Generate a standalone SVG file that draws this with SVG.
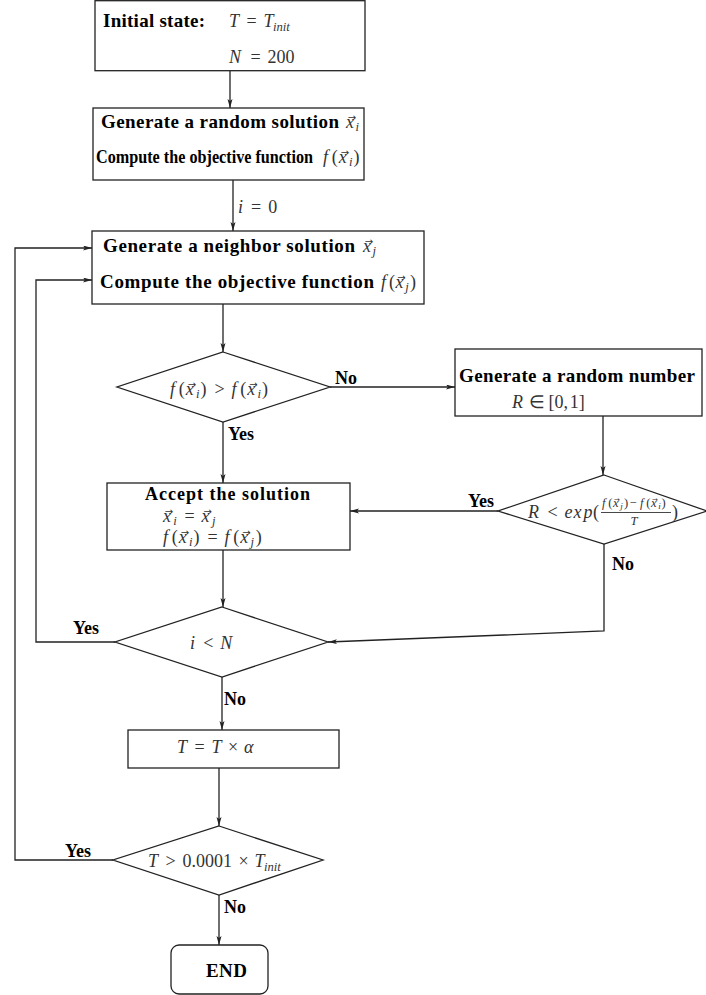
<svg xmlns="http://www.w3.org/2000/svg" width="706" height="995" viewBox="0 0 706 995">
<style>
.box{fill:#fff;stroke:#222;stroke-width:1.3}
.ln{fill:none;stroke:#222;stroke-width:1.3}
.b{font-family:"Liberation Serif",serif;font-weight:bold;font-size:19px;fill:#000}
.lab{font-family:"Liberation Serif",serif;font-weight:bold;font-size:18px;fill:#000}
.m{font-family:"Liberation Serif",serif;font-style:italic;font-size:18px;fill:#333}
.r{font-style:normal}
.s{font-size:12.6px}
.ss{font-size:9px}
.f{font-size:12.6px}
.v{font-family:"DejaVu Sans",sans-serif;font-size:10px;fill:#333;text-anchor:middle}
.vs{font-size:7px}
</style>
<defs>
<marker id="ah" markerUnits="userSpaceOnUse" markerWidth="10" markerHeight="6" refX="9" refY="2.5" orient="auto">
<path d="M0,0 L9,2.5 L0,5 L2,2.5 z" fill="#222"/>
</marker>
</defs>
<rect width="706" height="995" fill="#fff"/>
<g id="connectors">
<path class="ln" d="M230,71 V108" marker-end="url(#ah)"/>
<path class="ln" d="M233,180 V231" marker-end="url(#ah)"/>
<path class="ln" d="M223,304 V352" marker-end="url(#ah)"/>
<path class="ln" d="M330,387 H455" marker-end="url(#ah)"/>
<path class="ln" d="M603,416 V475" marker-end="url(#ah)"/>
<path class="ln" d="M498,511 H350" marker-end="url(#ah)"/>
<path class="ln" d="M223,422 V483" marker-end="url(#ah)"/>
<path class="ln" d="M604,544 V631 L328,642" marker-end="url(#ah)"/>
<path class="ln" d="M223,550 V607" marker-end="url(#ah)"/>
<path class="ln" d="M115,642 H36 V280 H92" marker-end="url(#ah)"/>
<path class="ln" d="M222,677 V730" marker-end="url(#ah)"/>
<path class="ln" d="M219,768 V826" marker-end="url(#ah)"/>
<path class="ln" d="M113,860 H15 V248 H92" marker-end="url(#ah)"/>
<path class="ln" d="M219,895 V945" marker-end="url(#ah)"/>
<text class="m" y="213"><tspan x="238">i</tspan><tspan x="251" class="r">=</tspan><tspan x="268.2" class="r">0</tspan></text>
<text class="lab" x="335" y="384">No</text>
<text class="lab" x="228" y="440">Yes</text>
<text class="lab" x="468" y="507">Yes</text>
<text class="lab" x="612" y="570">No</text>
<text class="lab" x="73" y="634">Yes</text>
<text class="lab" x="224" y="705">No</text>
<text class="lab" x="65" y="857">Yes</text>
<text class="lab" x="224" y="913">No</text>
</g>
<g id="init">
<rect class="box" x="95" y="0.7" width="270" height="70"/>
<text class="b" x="103" y="27" textLength="102">Initial state:</text>
<text class="m" y="27"><tspan x="229">T</tspan><tspan x="246.5" class="r">=</tspan><tspan x="263.5">T</tspan><tspan x="273" dy="3.5" class="s">init</tspan></text>
<text class="m" y="63"><tspan x="229">N</tspan><tspan x="250.5" class="r">=</tspan><tspan x="267.5" class="r">200</tspan></text>
</g>
<g id="random-solution">
<rect class="box" x="93" y="108" width="271" height="72"/>
<text class="b" x="101" y="128" textLength="238">Generate a random solution</text>
<text class="m" y="128"><tspan x="346">x</tspan><tspan x="355.5" dy="3" class="s">i</tspan></text>
<text class="v" x="352" y="121">→</text>
<text class="b" x="96" y="163" textLength="217" lengthAdjust="spacingAndGlyphs" style="font-size:18px">Compute the objective function</text>
<text class="m" y="163"><tspan x="323">f</tspan><tspan x="331.8" class="r">(</tspan><tspan x="338.8">x</tspan><tspan x="349.1" dy="3" class="s">i</tspan><tspan x="353.5" dy="-3" class="r">)</tspan></text>
<text class="v" x="345" y="156">→</text>
</g>
<g id="neighbor">
<rect class="box" x="92" y="231" width="332" height="73"/>
<text class="b" x="103" y="252" textLength="252">Generate a neighbor solution</text>
<text class="m" y="252"><tspan x="363">x</tspan><tspan x="372.5" dy="3" class="s">j</tspan></text>
<text class="v" x="369" y="245">→</text>
<text class="b" x="100" y="288" textLength="274">Compute the objective function</text>
<text class="m" y="288"><tspan x="381">f</tspan><tspan x="389" class="r">(</tspan><tspan x="395.5">x</tspan><tspan x="405.3" dy="3" class="s">j</tspan><tspan x="410" dy="-3" class="r">)</tspan></text>
<text class="v" x="401.5" y="281">→</text>
</g>
<g id="cond-improve">
<polygon class="box" points="223,352 330,387 223,422 117,387"/>
<text class="m" y="395"><tspan x="170">f</tspan><tspan x="178.8" class="r">(</tspan><tspan x="185.8">x</tspan><tspan x="196.1" dy="3" class="s">i</tspan><tspan x="200.5" dy="-3" class="r">)</tspan><tspan x="214.5" class="r">&gt;</tspan><tspan x="231.5">f</tspan><tspan x="240.3" class="r">(</tspan><tspan x="247.3">x</tspan><tspan x="257.6" dy="3" class="s">i</tspan><tspan x="262" dy="-3" class="r">)</tspan></text>
<text class="v" x="192" y="388">→</text>
<text class="v" x="253.5" y="388">→</text>
</g>
<g id="random-number">
<rect class="box" x="455" y="349" width="247" height="67"/>
<text class="b" x="459" y="382" textLength="236">Generate a random number</text>
<text class="m" y="408"><tspan x="512">R</tspan><tspan x="529" class="r">∈</tspan><tspan x="548.5" class="r">[0,</tspan><tspan x="569.7" class="r">1]</tspan></text>
</g>
<g id="cond-prob">
<polygon class="box" points="604,475 707,511 604,544 498,511"/>
<text class="m" y="518"><tspan x="528">R</tspan><tspan x="547.5" class="r">&lt;</tspan><tspan x="564.5">e</tspan><tspan x="573.5">x</tspan><tspan x="583.5">p</tspan><tspan x="593" class="r">(</tspan></text>
<text class="m f" y="507"><tspan x="602">f</tspan><tspan x="608.2" class="r">(</tspan><tspan x="613.1">x</tspan><tspan x="620.3" dy="2" class="ss">j</tspan><tspan x="624" dy="-2" class="r">)</tspan><tspan x="629.5" class="r">−</tspan><tspan x="640">f</tspan><tspan x="646.2" class="r">(</tspan><tspan x="651.1">x</tspan><tspan x="658.3" dy="2" class="ss">i</tspan><tspan x="661.5" dy="-2" class="r">)</tspan></text>
<text class="v vs" x="617" y="502">→</text>
<text class="v vs" x="655" y="502">→</text>
<line x1="601" y1="512.5" x2="671" y2="512.5" stroke="#333" stroke-width="0.9"/>
<text class="m f" x="630.5" y="525">T</text>
<text class="m r" x="672" y="518">)</text>
</g>
<g id="accept">
<rect class="box" x="107" y="483" width="243" height="67"/>
<text class="b" x="145" y="500" textLength="165" style="font-size:18px">Accept the solution</text>
<text class="m" y="522"><tspan x="163">x</tspan><tspan x="173.3" dy="3" class="s">i</tspan><tspan x="184.6" dy="-3" class="r">=</tspan><tspan x="201.6">x</tspan><tspan x="211.9" dy="3" class="s">j</tspan></text>
<text class="v" x="169" y="515">→</text>
<text class="v" x="207.6" y="515">→</text>
<text class="m" y="543"><tspan x="163">f</tspan><tspan x="171.8" class="r">(</tspan><tspan x="178.8">x</tspan><tspan x="189.1" dy="3" class="s">i</tspan><tspan x="193.5" dy="-3" class="r">)</tspan><tspan x="207.5" class="r">=</tspan><tspan x="224.5">f</tspan><tspan x="233.3" class="r">(</tspan><tspan x="240.3">x</tspan><tspan x="250.6" dy="3" class="s">j</tspan><tspan x="255.8" dy="-3" class="r">)</tspan></text>
<text class="v" x="185" y="536">→</text>
<text class="v" x="246.5" y="536">→</text>
</g>
<g id="cond-iter">
<polygon class="box" points="222,607 328,642 222,677 115,642"/>
<text class="m" y="649"><tspan x="190">i</tspan><tspan x="203.2" class="r">&lt;</tspan><tspan x="220.2">N</tspan></text>
</g>
<g id="cooling">
<rect class="box" x="128" y="730" width="211" height="38"/>
<text class="m" y="753"><tspan x="177">T</tspan><tspan x="194.5" class="r">=</tspan><tspan x="211.5">T</tspan><tspan x="228" class="r">×</tspan><tspan x="244">α</tspan></text>
</g>
<g id="cond-temp">
<polygon class="box" points="219,826 323,860 219,895 113,860"/>
<text class="m" y="867"><tspan x="148">T</tspan><tspan x="165.5" class="r">&gt;</tspan><tspan x="182.5" class="r">0.0001</tspan><tspan x="238.5" class="r">×</tspan><tspan x="254.5">T</tspan><tspan x="264" dy="3.5" class="s">init</tspan></text>
</g>
<g id="end">
<rect class="box" x="171" y="945" width="97" height="49" rx="8"/>
<text class="b" x="206" y="977" textLength="41">END</text>
</g>
</svg>
